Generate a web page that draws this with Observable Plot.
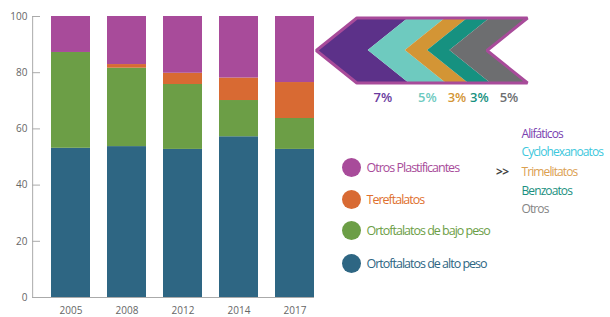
<!DOCTYPE html>
<html><head><meta charset="utf-8">
<script src="https://cdn.jsdelivr.net/npm/d3@7"></script>
<script src="https://cdn.jsdelivr.net/npm/@observablehq/plot@0.6"></script>
<style>
body{margin:0;background:#fff;font-family:"Open Sans",sans-serif;}
#wrap{position:relative;width:610px;height:317px;overflow:hidden;}
#wrap svg{position:absolute;left:0;top:0;}
.row{position:absolute;display:flex;align-items:center;white-space:nowrap;}
.dot{width:19px;height:19px;border-radius:50%;flex:none;margin-right:6px;}
.lt{font-size:12.5px;letter-spacing:-1px;}
.rt{font-size:12px;letter-spacing:-0.9px;}
</style></head><body><div id="wrap"></div>
<script>
const years = ["2005", "2008", "2012", "2014", "2017"];
const series = ["Ortoftalatos de alto peso", "Ortoftalatos de bajo peso", "Tereftalatos", "Otros Plastificantes"];
const altoPeso = [53.1, 53.7, 52.7, 57.2, 52.7];
const bajoPeso = [34.1, 27.9, 23.1, 12.9, 11.0];
const tereftalatos = [0, 1.3, 4.0, 8.0, 12.8];
const otrosPlast = [12.8, 17.1, 20.2, 21.9, 23.5];
const seriesColors = ["#2e6683", "#6c9e46", "#d86a33", "#a84b9a"];
const legendTextColors = ["#2e6683", "#6c9e46", "#e0702e", "#a84b9a"];
const yTicks = [0, 20, 40, 60, 80, 100];

const otrosGroups = ["Alifáticos", "Cyclohexanoatos", "Trimelitatos", "Benzoatos", "Otros"];
const otrosShares = [7, 5, 3, 3, 5];
const otrosColors = ["#5c3189", "#6ecabf", "#d39535", "#169180", "#6d6e70"];
const otrosLabelColors = ["#6a3a9e", "#6ecabf", "#d39535", "#169180", "#6d6e70"];
const otrosTextColors = ["#7a3fb0", "#3cc7dc", "#dba050", "#1a9080", "#858585"];

const valuesBySeries = [altoPeso, bajoPeso, tereftalatos, otrosPlast];
const rows = series.flatMap((s, i) => years.map((y, j) => ({year: y, series: s, value: valuesBySeries[i][j]})));

const wrap = document.getElementById("wrap");

const main = Plot.plot({
  width: 610, height: 317,
  marginLeft: 32, marginRight: 296, marginTop: 16, marginBottom: 20,
  style: {fontFamily: "Open Sans", fontSize: "10px", color: "#666", background: "transparent"},
  x: {domain: years, range: [51, 314], paddingInner: 0.31, paddingOuter: 0, label: null},
  y: {domain: [0, 100], label: null},
  color: {domain: series, range: seriesColors},
  marks: [
    Plot.barY(rows, {x: "year", y: "value", fill: "series"}),
    Plot.ruleY([0], {stroke: "#aaa"}),
    Plot.ruleY(yTicks.slice(1), {stroke: "#aaa", insetRight: 274}),
    Plot.ruleX([years[0]], {y1: 0, y2: 100, dx: -38.35, stroke: "#aaa"}),
    Plot.axisY(yTicks, {tickSize: 0, tickPadding: 5, label: null}),
    Plot.axisX({tickSize: 0, tickPadding: 9.5, label: null})
  ]
});
wrap.appendChild(main);

// chevron arrow breakdown of "Otros Plastificantes"
const total = d3.sum(otrosShares);
const ends = d3.cumsum(otrosShares);
const starts = otrosShares.map((v, i) => ends[i] - v);
const slant = 5.46;
const chev = otrosGroups.flatMap((g, i) => [1, 0, -1].map(v => ({
  g, y: v, x1: starts[i] + slant * Math.abs(v), x2: ends[i] + slant * Math.abs(v)
})));
const outline = [
  {x: slant + total / 2, y: 1}, {x: total + slant, y: 1}, {x: total, y: 0}, {x: total + slant, y: -1},
  {x: slant, y: -1}, {x: 0, y: 0}, {x: slant, y: 1}, {x: slant + total / 2, y: 1}
];
const labels = otrosGroups.map((g, i) => ({g, x: (starts[i] + ends[i]) / 2 + slant, y: -1, text: otrosShares[i] + "%"}));

const arrow = Plot.plot({
  width: 610, height: 317,
  style: {fontFamily: "Open Sans", background: "transparent"},
  x: {domain: [0, total], range: [315.8, 486.5], axis: null},
  y: {domain: [-1, 1], range: [82.5, 17.5], axis: null},
  color: {domain: otrosGroups, range: otrosColors},
  marks: [
    Plot.areaX(chev, {y: "y", x1: "x1", x2: "x2", fill: "g", z: "g"}),
    Plot.line(outline, {x: "x", y: "y", stroke: "#a84b9a", strokeWidth: 3, strokeLinejoin: "miter"}),
    Plot.text(labels, {x: "x", y: "y", dy: 14.8, text: "text", fill: (d) => otrosLabelColors[otrosGroups.indexOf(d.g)], fontSize: 13, fontWeight: 600})
  ]
});
wrap.appendChild(arrow);

// legend (top to bottom: reverse stacking order)
const legendCenters = [167.5, 199.3, 230.7, 263.3];
series.slice().reverse().forEach((s, k) => {
  const i = series.length - 1 - k;
  const r = document.createElement("div");
  r.className = "row";
  r.style.left = "341.5px";
  r.style.top = (legendCenters[k] - 12) + "px";
  r.style.height = "24px";
  r.innerHTML = `<div class="dot" style="background:${seriesColors[i]}"></div><span class="lt" style="color:${legendTextColors[i]}">${s}</span>`;
  wrap.appendChild(r);
});

const rightCenters = [133.3, 151.5, 171.2, 190, 208.3];
otrosGroups.forEach((g, i) => {
  const r = document.createElement("div");
  r.className = "row";
  r.style.left = "521.5px";
  r.style.top = (rightCenters[i] - 10) + "px";
  r.style.height = "20px";
  r.innerHTML = `<span class="rt" style="color:${otrosTextColors[i]}">${g}</span>`;
  wrap.appendChild(r);
});
const arr = document.createElement("div");
arr.className = "row";
arr.style.left = "496px";
arr.style.top = (171.2 - 10) + "px";
arr.style.height = "20px";
arr.innerHTML = `<span style="font-size:12px;font-weight:700;color:#444;letter-spacing:-0.5px">&gt;&gt;</span>`;
wrap.appendChild(arr);
</script>
</body></html>
